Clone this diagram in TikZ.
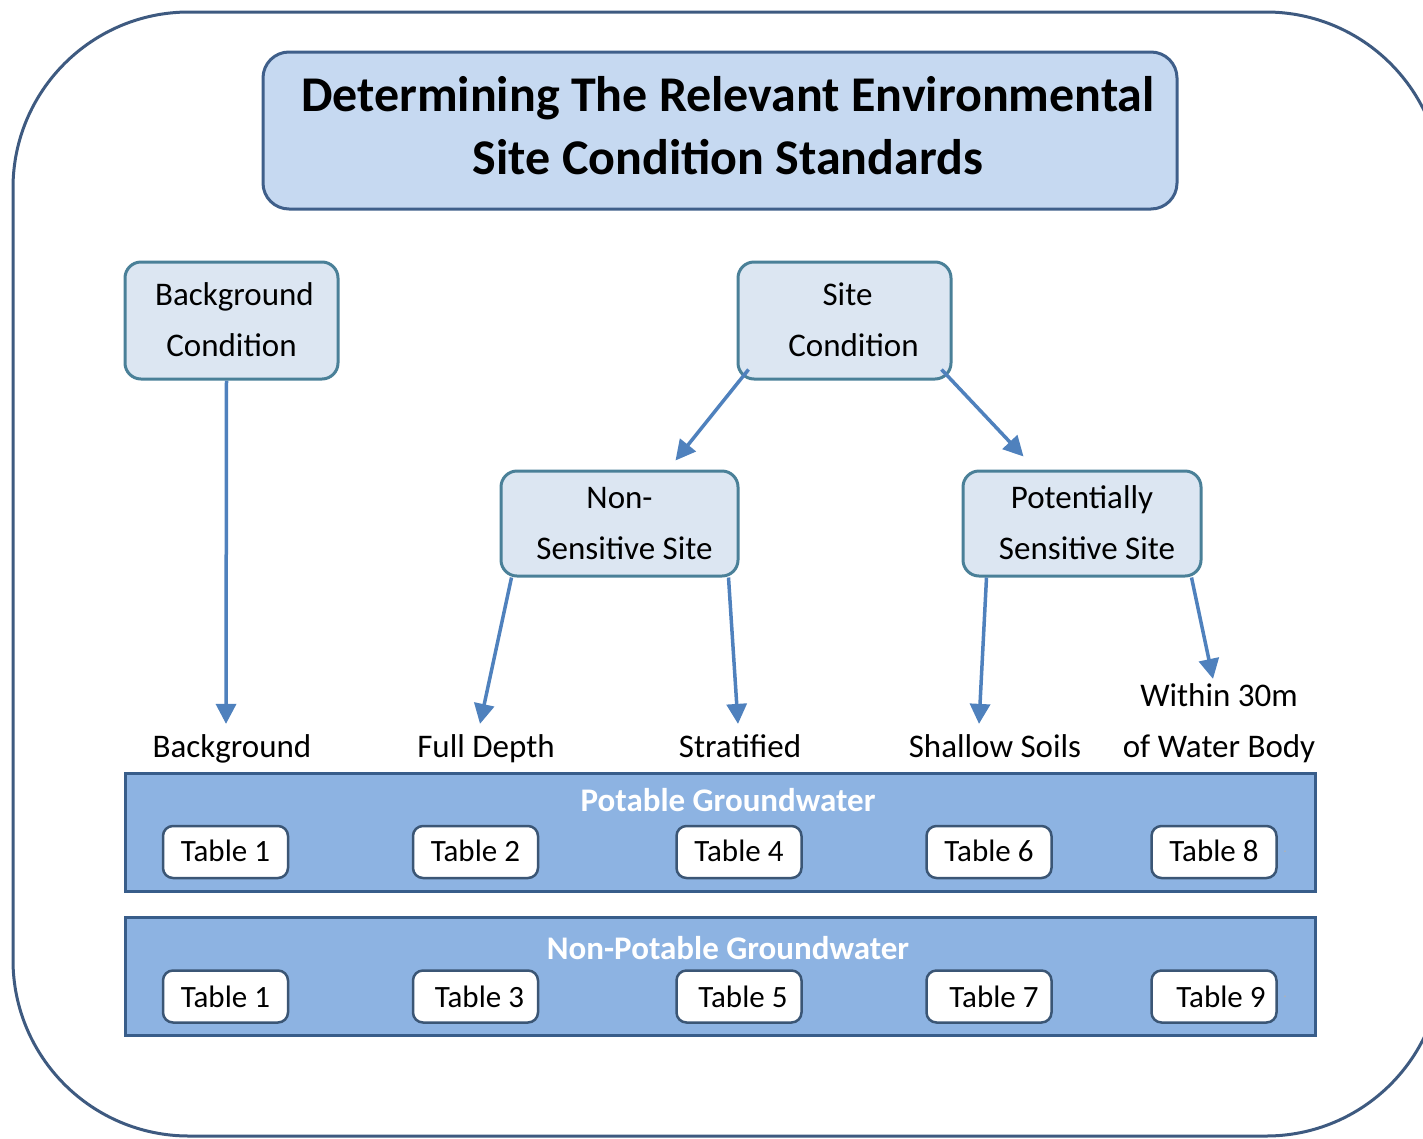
\documentclass[tikz,border=0pt]{standalone}
\usepackage{fontspec}
\setmainfont{Carlito}
\usetikzlibrary{arrows.meta,calc}
\definecolor{frameC}{HTML}{3E5A80}
\definecolor{titleFill}{HTML}{C6D9F1}
\definecolor{titleDraw}{HTML}{3F5F8A}
\definecolor{boxFill}{HTML}{DCE6F2}
\definecolor{boxDraw}{HTML}{4A8098}
\definecolor{arrC}{HTML}{4F81BD}
\definecolor{bandFill}{HTML}{8DB3E2}
\definecolor{bandDraw}{HTML}{385D8A}
\definecolor{tabDraw}{HTML}{3B5675}
\newcommand{\twolines}[3]{\raisebox{#1}{\begin{tabular}{@{}c@{}}#2\\#3\end{tabular}}}
\tikzset{
  x=1pt, y=-1pt,
  titlebox/.style={draw=titleDraw, line width=3pt, fill=titleFill, rounded corners=26pt,
    minimum width=914pt, minimum height=157pt, inner sep=0pt,
    font=\fontsize{50}{63}\selectfont\bfseries},
  condbox/.style={draw=boxDraw, line width=3pt, fill=boxFill, rounded corners=16pt,
    inner sep=0pt, font=\fontsize{33}{51}\selectfont},
  lbl/.style={inner sep=0pt, anchor=base, font=\fontsize{33}{51}\selectfont},
  band/.style={draw=bandDraw, line width=3pt, fill=bandFill, minimum width=1190pt,
    minimum height=118pt, inner sep=0pt},
  bandtitle/.style={text=white, inner sep=0pt, font=\fontsize{33}{36}\selectfont\bfseries},
  tabbox/.style={draw=tabDraw, line width=2.5pt, fill=white, rounded corners=10pt,
    minimum width=125pt, minimum height=52pt, inner sep=0pt, font=\fontsize{31}{36}\selectfont},
  tabtext/.style={yshift=3pt},
  arr/.style={draw=arrC, line width=3.5pt, -{Triangle[length=20pt,width=20pt]}},
  dotmark/.style={text=gray!60, inner sep=0pt, font=\fontsize{14}{14}\selectfont}
}
\begin{document}
\begin{tikzpicture}
\useasboundingbox (0,0) rectangle (1423,1138);
% outer frame
\draw[frameC, line width=3pt, rounded corners=176pt] (13,12) rectangle (1442,1136);

\node[titlebox] (title) at (720,130.5) {\hspace*{16pt}\twolines{4pt}{Determining The Relevant Environmental}{Site Condition Standards}};

\node[condbox, minimum width=213pt, minimum height=117pt] (bg) at (231.5,320.5) {\twolines{4pt}{\hspace*{6pt}Background}{Condition}};
\node[condbox, minimum width=213pt, minimum height=117pt] (site) at (844.5,320.5) {\twolines{4pt}{\hspace*{6pt}Site}{\hspace*{18pt}Condition}};
\node[condbox, minimum width=237pt, minimum height=105pt] (nss) at (619.5,523.5) {\twolines{3pt}{Non-}{\hspace*{10pt}Sensitive Site}};
\node[condbox, minimum width=238pt, minimum height=105pt] (pss) at (1082,523.5) {\twolines{3pt}{Potentially}{\hspace*{10pt}Sensitive Site}};

\node[lbl] (lbg) at (232,757) {Background};
\node[lbl] (lfd) at (486,757) {Full Depth};
\node[lbl] (lst) at (740,757) {Stratified};
\node[lbl] (lsh) at (995,757) {Shallow Soils};
\node[lbl] (lwb) at (1219,706) {Within 30m};
\node[lbl] (lwb2) at (1219,757) {of Water Body};

\node[band] (pot) at (720,832) {};
\node[band] (npot) at (720,976) {};
\node[bandtitle] (pott) at (728,800) {Potable Groundwater};
\node[bandtitle] (npott) at (728,948) {Non-Potable Groundwater};

\node[tabbox] (t1a) at (225.5,852) {\raisebox{3pt}{Table 1}};
\node[tabbox] (t2) at (475.5,852) {\raisebox{3pt}{Table 2}};
\node[tabbox] (t4) at (739,852) {\raisebox{3pt}{Table 4}};
\node[tabbox] (t6) at (989,852) {\raisebox{3pt}{Table 6}};
\node[tabbox] (t8) at (1214,852) {\raisebox{3pt}{Table 8}};
\node[tabbox] (t1b) at (225.5,996.5) {Table 1};
\node[tabbox] (t3) at (475.5,996.5) {\hspace*{8pt}Table 3};
\node[tabbox] (t5) at (739,996.5) {\hspace*{8pt}Table 5};
\node[tabbox] (t7) at (989,996.5) {\hspace*{10pt}Table 7};
\node[tabbox] (t9) at (1214,996.5) {\hspace*{14pt}Table 9};
\node[dotmark] (d8) at (1285,852) {.};
\node[dotmark] (d9) at (1285,997) {.};

% arrows
\draw[arr] ($(bg.south)+(-5,0)$) -- ($(lbg.north)+(-6,-10)$);
\coordinate (s1) at ($(site.south west)+(12,-11)$);
\coordinate (s2) at ($(site.south east)+(-11,-11)$);
\draw[arr] (s1) -- ($(nss.north)+(56,-9)$);
\draw[arr] (s2) -- ($(pss.north west)+(62,-13)$);
\draw[arr] ($(nss.south west)+(12,0)$) -- ($(lfd.north)+(-6,-10)$);
\draw[arr] ($(nss.south east)+(-11,0)$) -- ($(lst.north)+(-2,-10)$);
\draw[arr] ($(pss.south west)+(25,0)$) -- ($(lsh.north)+(-16,-10)$);
\draw[arr] ($(pss.south east)+(-11,0)$) -- ($(lwb.north)+(-6,-4)$);
\end{tikzpicture}
\end{document}
